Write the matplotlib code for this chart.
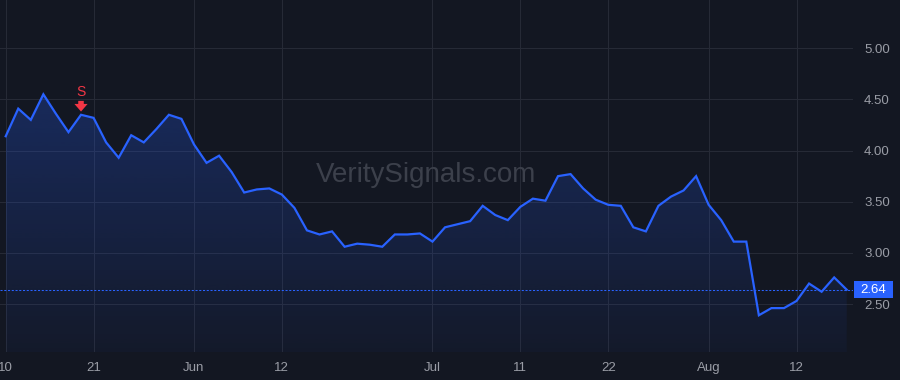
import matplotlib
matplotlib.use("Agg")
import matplotlib.pyplot as plt
import matplotlib.transforms as mtransforms
from matplotlib.patches import Rectangle
from matplotlib.colors import to_rgb
import numpy as np

# ---- data (one value per trading day, 10 May -> 16 Aug) ----
values = [4.14, 4.41, 4.30, 4.55, 4.36, 4.18, 4.35, 4.32, 4.08, 3.93,
          4.15, 4.08, 4.21, 4.35, 4.31, 4.06, 3.88, 3.95, 3.79, 3.59,
          3.62, 3.63, 3.57, 3.44, 3.22, 3.18, 3.21, 3.06, 3.09, 3.08,
          3.06, 3.18, 3.18, 3.19, 3.11, 3.25, 3.28, 3.31, 3.46, 3.37,
          3.32, 3.45, 3.53, 3.51, 3.75, 3.77, 3.63, 3.52, 3.47, 3.46,
          3.25, 3.21, 3.46, 3.55, 3.61, 3.75, 3.47, 3.32, 3.11, 3.11,
          2.39, 2.46, 2.46, 2.53, 2.70, 2.62, 2.76, 2.64]
tick_index = [0, 7, 15, 22, 34, 41, 48, 56, 63]
tick_labels = ["10", "21", "Jun", "12", "Jul", "11", "22", "Aug", "12"]
y_ticks = [2.50, 3.00, 3.50, 4.00, 4.50, 5.00]
signal_index = 6
signal_label = "S"
watermark = "VeritySignals.com"

plt.rcParams["font.family"] = ["Liberation Sans", "DejaVu Sans"]

BG = "#131722"
LINE = "#2962ff"
GRID = "#262a36"
TXT = "#9a9da6"

fig = plt.figure(figsize=(9, 3.8), dpi=100, facecolor=BG)
ax = fig.add_axes([0, 28 / 380, 853 / 900, 352 / 380])
ax.set_facecolor(BG)

x = np.arange(len(values))
y = np.array(values)
ylo, yhi = 2.031, 5.472

# gradient fill under the line
poly = ax.fill_between(x, y, ylo, facecolor="none", edgecolor="none")
rgb = to_rgb(LINE)
n = 256
grad = np.zeros((n, 1, 4))
grad[:, 0, :3] = rgb
grad[:, 0, 3] = np.linspace(0.04, 0.26, n)
im = ax.imshow(grad, extent=[x[0], x[-1], ylo, y.max()], aspect="auto",
               origin="lower", zorder=1, interpolation="bilinear")
im.set_clip_path(poly.get_paths()[0], transform=ax.transData)

ax.plot(x, y, color=LINE, lw=1.6, zorder=4, solid_joinstyle="miter")

ax.set_xlim(-0.454, 67.5)
ax.set_ylim(ylo, yhi)

# grid & ticks
ax.set_xticks(tick_index)
ax.set_xticklabels(tick_labels)
ax.set_yticks(y_ticks)
ax.set_yticklabels([f"{v:.2f}" for v in y_ticks])
ax.yaxis.tick_right()
ax.grid(True, color=GRID, lw=0.75, zorder=0)
ax.set_axisbelow(True)
ax.tick_params(axis="both", length=0, labelcolor=TXT, labelsize=9.5)
ax.tick_params(axis="y", pad=8)
ax.tick_params(axis="x", pad=7)
for s in ax.spines.values():
    s.set_visible(False)

# watermark
ax.text(0.5, 0.4838, watermark, transform=ax.transAxes, ha="center",
        va="baseline", fontsize=20, color="#3c404b", zorder=2)

# signal marker
sx, sy = x[signal_index], y[signal_index]
ax.annotate("", xy=(sx, sy), xytext=(0, 10), textcoords="offset points",
            arrowprops=dict(arrowstyle="simple,head_width=0.95,head_length=0.55,tail_width=0.4",
                            fc="#f23645", ec="none", shrinkA=0, shrinkB=2.3),
            zorder=5)
ax.annotate(signal_label, xy=(sx, sy), xytext=(0, 16.6), textcoords="offset points",
            ha="center", va="center", color="#f23645", fontsize=10, zorder=5)

# last price line and label
last = y[-1]
ax.axhline(last, color=LINE, lw=0.75, ls=(0, (2, 1.6)), zorder=3)
trans = mtransforms.blended_transform_factory(ax.transAxes, ax.transData)
ax.add_patch(Rectangle((854 / 853, last - 0.0806), 39 / 853, 0.161,
                       transform=trans, facecolor=LINE, edgecolor="none",
                       clip_on=False, zorder=6))
ax.text(873.5 / 853, last, f"{last:.2f}", transform=trans, ha="center",
        va="center", color="white", fontsize=9.5, clip_on=False, zorder=7)

fig.savefig("out.png", dpi=100, facecolor=BG)
